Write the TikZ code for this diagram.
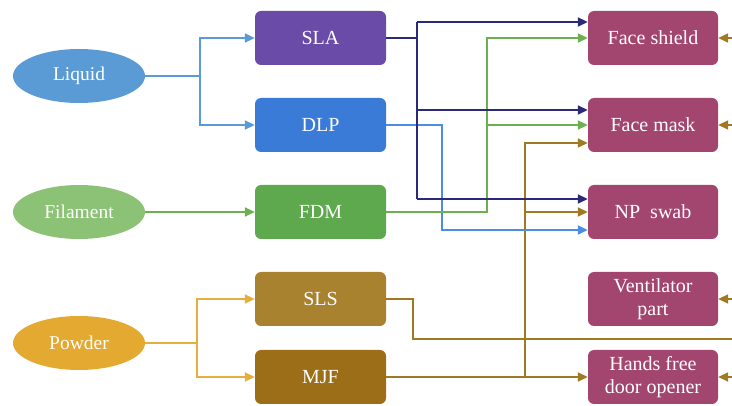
\documentclass[tikz,border=0pt]{standalone}
\usepackage{fontspec}
\setmainfont{Liberation Serif}
\usetikzlibrary{shapes.geometric,arrows.meta,calc}
\definecolor{liqC}{HTML}{5B9BD5}
\definecolor{filC}{HTML}{8CC276}
\definecolor{powC}{HTML}{E3A931}
\definecolor{slaC}{HTML}{6A4BA7}
\definecolor{dlpC}{HTML}{3B7BD8}
\definecolor{fdmC}{HTML}{5EA84D}
\definecolor{slsC}{HTML}{A8822F}
\definecolor{mjfC}{HTML}{9C6E17}
\definecolor{appC}{HTML}{A3466F}
\definecolor{navyL}{HTML}{2B2A78}
\definecolor{blueL}{HTML}{4A8DE6}
\definecolor{greenL}{HTML}{6DB050}
\definecolor{goldL}{HTML}{E6AE3C}
\definecolor{brownL}{HTML}{A07A22}
\tikzset{
  matnode/.style={ellipse, minimum width=132pt, minimum height=54pt, inner sep=0pt, text=white, font=\fontsize{19.5}{21}\selectfont},
  procbox/.style={rounded corners=6pt, minimum width=131pt, minimum height=54pt, inner sep=0pt, text=white, font=\fontsize{20}{22}\selectfont},
  appbox/.style={rounded corners=6pt, minimum width=130pt, minimum height=54pt, inner sep=0pt, fill=appC, text=white, align=center, font=\fontsize{20}{22}\selectfont},
  conn/.style={line width=1.9pt},
  tip/.style={-{Triangle[length=10pt,width=9pt]}},
}
\begin{document}
\begin{tikzpicture}[x=1pt,y=-1pt]
\useasboundingbox (0,0) rectangle (732,406);
% materials
\node[matnode, fill=liqC] (liq) at (79,76) {Liquid};
\node[matnode, fill=filC] (fil) at (79,212) {Filament};
\node[matnode, fill=powC] (pow) at (79,343) {Powder};
% processes
\node[procbox, fill=slaC] (sla) at (320.5,38) {SLA};
\node[procbox, fill=dlpC] (dlp) at (320.5,125) {DLP};
\node[procbox, fill=fdmC] (fdm) at (320.5,212) {FDM};
\node[procbox, fill=slsC] (sls) at (320.5,299) {SLS};
\node[procbox, fill=mjfC] (mjf) at (320.5,377) {MJF};
% applications
\node[appbox] (fs) at (653,38) {Face shield};
\node[appbox] (fm) at (653,125) {Face mask};
\node[appbox] (np) at (653,212) {NP\enspace swab};
\node[appbox, font=\fontsize{20}{23}\selectfont] (vp) at (653,299) {Ventilator\\part};
\node[appbox, font=\fontsize{20}{23}\selectfont] (hf) at (653,377) {Hands free\\door opener};
% junction coordinates
\coordinate (lj) at (200,76);
\coordinate (pj) at (197,343);
\coordinate (nj) at (417,38);
\coordinate (bj) at (442,125);
\coordinate (gj) at (487,212);
\coordinate (mj) at (525,377);
\coordinate (sj) at (413,299);
\coordinate (slsend) at (732,339);
\coordinate (r1) at (732,38);
\coordinate (r2) at (732,125);
\coordinate (r4) at (732,299);
\coordinate (r5) at (732,377);
% material -> process
\draw[conn, liqC] (liq.east) -- (lj);
\draw[conn, liqC, tip] (lj) |- (sla.west);
\draw[conn, liqC, tip] (lj) |- (dlp.west);
\draw[conn, greenL, tip] (fil.east) -- (fdm.west);
\draw[conn, goldL] (pow.east) -- (pj);
\draw[conn, goldL, tip] (pj) |- (sls.west);
\draw[conn, goldL, tip] (pj) |- (mjf.west);
% SLS
\draw[conn, brownL] (sls.east) -- (sj) |- (slsend);
% MJF
\draw[conn, brownL, tip] (mjf.east) -- (hf.west);
\draw[conn, brownL, tip] (mj) |- ($(fm.west)+(0,18)$);
\draw[conn, brownL, tip] (mj |- np.west) -- (np.west);
% DLP
\draw[conn, blueL, tip] (dlp.east) -- (bj) |- ($(np.west)+(0,18)$);
% FDM
\draw[conn, greenL, tip] (fdm.east) -- (gj) |- (fs.west);
\draw[conn, greenL, tip] (gj |- fm.west) -- (fm.west);
% SLA
\draw[conn, navyL] (sla.east) -- (nj);
\draw[conn, navyL, tip] (nj |- 0,22) -- ($(fs.west)+(0,-16)$);
\draw[conn, navyL] (nj |- 0,22) -- (nj |- 0,199);
\draw[conn, navyL, tip] (nj |- 0,110) -- ($(fm.west)+(0,-15)$);
\draw[conn, navyL, tip] (nj |- 0,199) -- ($(np.west)+(0,-13)$);
% incoming from right
\draw[conn, brownL, tip] (r1) -- (fs.east);
\draw[conn, brownL, tip] (r2) -- (fm.east);
\draw[conn, brownL, tip] (r4) -- (vp.east);
\draw[conn, brownL, tip] (r5) -- (hf.east);
\end{tikzpicture}
\end{document}
